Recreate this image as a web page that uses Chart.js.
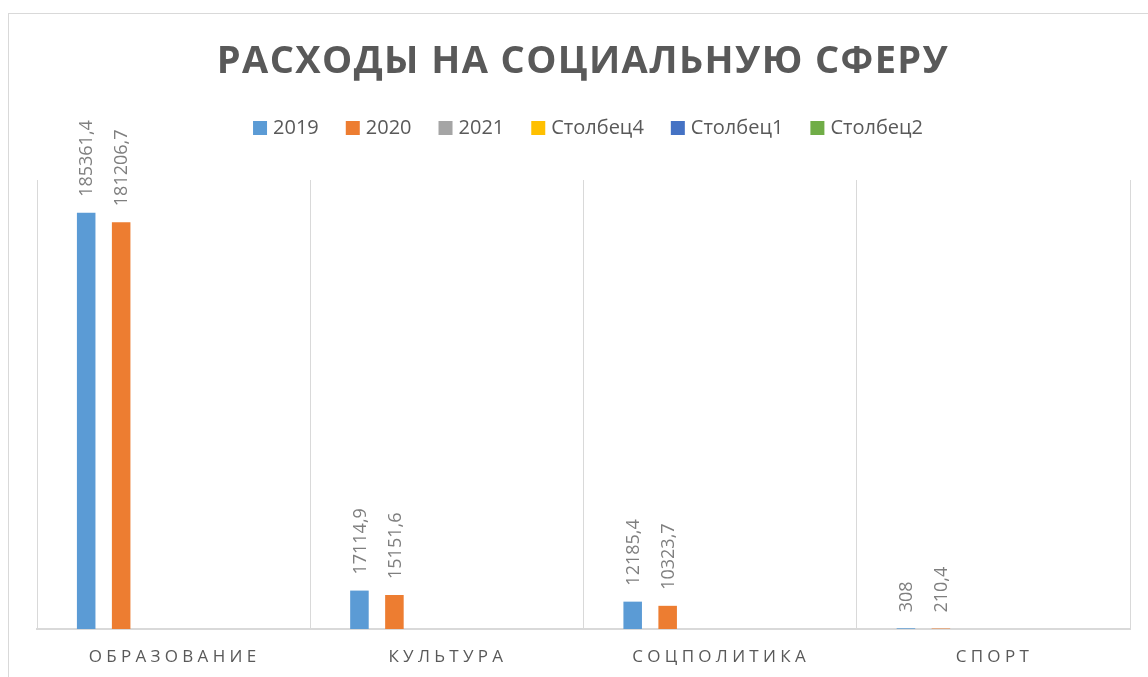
<!DOCTYPE html>
<html>
<head>
<meta charset="utf-8">
<script src="https://cdn.jsdelivr.net/npm/chart.js@4/dist/chart.umd.min.js"></script>
<style>
  html, body { margin: 0; padding: 0; background: #fff; }
  #wrap { position: relative; width: 1148px; height: 677px; }
</style>
</head>
<body>
<div id="wrap"><canvas id="chart"></canvas></div>
<script>
const chartTitle = 'РАСХОДЫ НА СОЦИАЛЬНУЮ СФЕРУ';
const categories = ['ОБРАЗОВАНИЕ', 'КУЛЬТУРА', 'СОЦПОЛИТИКА', 'СПОРТ'];
const seriesNames = ['2019', '2020', '2021', 'Столбец4', 'Столбец1', 'Столбец2'];
const values2019 = [185361.4, 17114.9, 12185.4, 308];
const values2020 = [181206.7, 15151.6, 10323.7, 210.4];
const values2021 = [null, null, null, null];
const valuesCol4 = [null, null, null, null];
const valuesCol1 = [null, null, null, null];
const valuesCol2 = [null, null, null, null];
const seriesColors = ['#5b9bd5', '#ed7d31', '#a5a5a5', '#ffc000', '#4472c4', '#70ad47'];
const allValues = [values2019, values2020, values2021, valuesCol4, valuesCol1, valuesCol2];

const FONT = '"Open Sans", "Liberation Sans", sans-serif';

// frame, title, legend, category labels and value labels (Excel look)
const excelLook = {
    id: 'excelLook',
    beforeDraw(chart) {
        const ctx = chart.ctx;
        ctx.save();
        ctx.strokeStyle = '#d9d9d9';
        ctx.lineWidth = 1;
        ctx.strokeRect(8.5, 13.5, 1300, 800);
        ctx.restore();
    },
    afterDraw(chart) {
        const ctx = chart.ctx;
        const area = chart.chartArea;
        const xScale = chart.scales.x;

        // title
        ctx.save();
        ctx.fillStyle = '#595959';
        ctx.font = 'bold 38px ' + FONT;
        ctx.letterSpacing = '1.4px';
        ctx.textAlign = 'center';
        ctx.textBaseline = 'middle';
        ctx.fillText(chartTitle, 583, 62);
        ctx.restore();

        // legend
        ctx.save();
        ctx.font = '20px ' + FONT;
        ctx.textBaseline = 'middle';
        const items = chart.data.datasets.map(ds => ({
            text: ds.label, color: ds.backgroundColor, w: ctx.measureText(ds.label).width
        }));
        const box = 14, gapText = 6, gapItem = 27;
        const total = items.reduce((s, it) => s + box + gapText + it.w, 0) + gapItem * (items.length - 1);
        let lx = 588 - total / 2;
        const ly = 128;
        items.forEach(it => {
            ctx.fillStyle = it.color;
            ctx.fillRect(lx, ly - box / 2, box, box);
            ctx.fillStyle = '#595959';
            ctx.fillText(it.text, lx + box + gapText, ly);
            lx += box + gapText + it.w + gapItem;
        });
        ctx.restore();

        // category labels
        ctx.save();
        ctx.fillStyle = '#595959';
        ctx.font = '17px ' + FONT;
        ctx.letterSpacing = '4.3px';
        ctx.textAlign = 'center';
        ctx.textBaseline = 'middle';
        categories.forEach((c, i) => {
            ctx.fillText(c, xScale.getPixelForValue(i) + 1, area.bottom + 28);
        });
        ctx.restore();

        // value labels
        ctx.save();
        ctx.fillStyle = '#7f7f7f';
        ctx.font = '18px ' + FONT;
        ctx.textAlign = 'left';
        ctx.textBaseline = 'middle';
        chart.data.datasets.forEach((ds, di) => {
            const meta = chart.getDatasetMeta(di);
            meta.data.forEach((bar, i) => {
                const v = ds.data[i];
                if (v === null || v === undefined) return;
                ctx.save();
                ctx.translate(bar.x + 1, bar.y - 16);
                ctx.rotate(-Math.PI / 2);
                ctx.fillText(String(v).replace('.', ','), 0, 0);
                ctx.restore();
            });
        });
        ctx.restore();
    }
};

new Chart(document.getElementById('chart'), {
    type: 'bar',
    data: {
        labels: categories,
        datasets: seriesNames.map((name, i) => ({
            label: name,
            data: allValues[i],
            backgroundColor: seriesColors[i],
            borderWidth: 0,
            categoryPercentage: 0.768,
            barPercentage: 0.53
        }))
    },
    options: {
        responsive: true,
        maintainAspectRatio: false,
        animation: false,
        layout: {
            padding: { left: 37, top: 180, right: 18, bottom: 48 }
        },
        plugins: {
            legend: { display: false },
            title: { display: false },
            tooltip: { enabled: false }
        },
        scales: {
            x: {
                ticks: { display: false },
                grid: { color: '#d9d9d9', lineWidth: 1, drawTicks: false },
                border: { color: '#d9d9d9', width: 2 }
            },
            y: {
                display: false,
                min: 0,
                max: 200000
            }
        }
    },
    plugins: [excelLook]
});
</script>
</body>
</html>
